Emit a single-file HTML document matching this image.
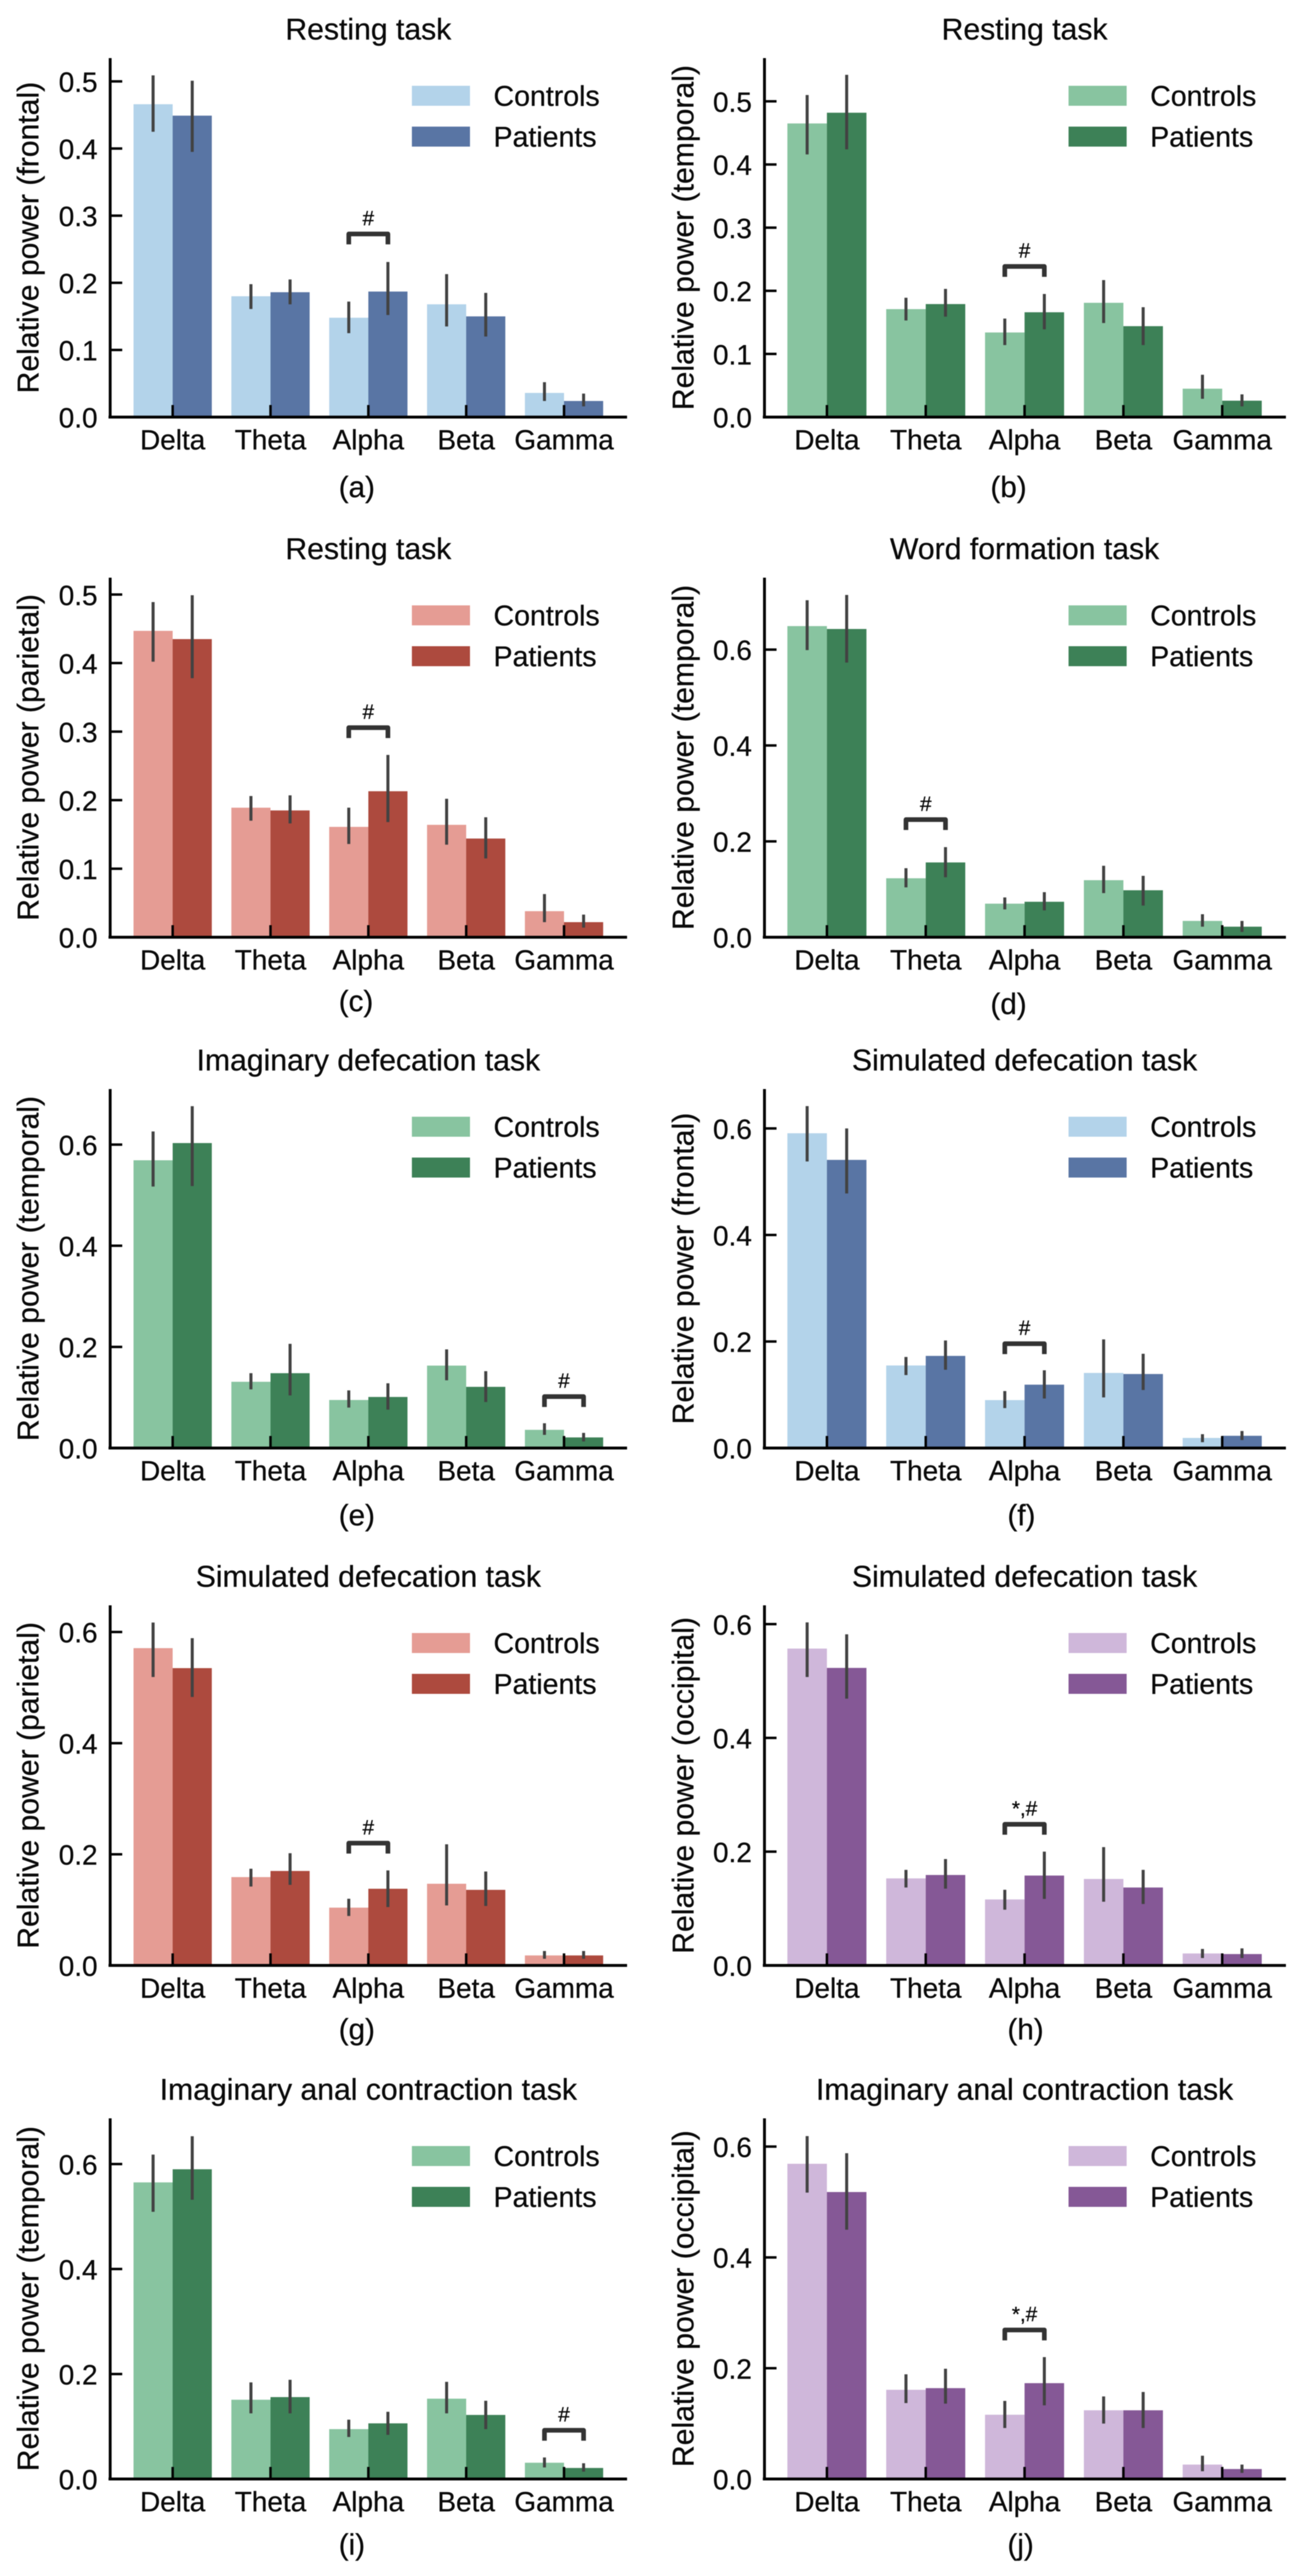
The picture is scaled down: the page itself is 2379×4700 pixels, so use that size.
<!DOCTYPE html>
<html lang="en">
<head>
<meta charset="utf-8">
<title>Relative power by frequency band and task</title>
<style>
html,body{margin:0;padding:0;background:#fff;}
svg{display:block;filter:blur(0.8px);}
text{font-family:"Liberation Sans",Arial,sans-serif;fill:#0a0a0a;stroke:#0a0a0a;stroke-width:0.5px;}
</style>
</head>
<body>
<svg id="figure" xmlns="http://www.w3.org/2000/svg" width="2379" height="4700" viewBox="0 0 2379 4700"></svg>
<script>
const categories = ['Delta','Theta','Alpha','Beta','Gamma'];
const fineTicks = ['0.0','0.1','0.2','0.3','0.4','0.5'];
const coarseTicks = ['0.0','0.2','0.4','0.6'];

const aControls = [.466,.180,.148,.168,.036];
const aPatients = [.449,.186,.187,.150,.024];
const aControlsLow = [.425,.161,.125,.135,.024];
const aControlsHigh = [.509,.198,.172,.213,.052];
const aPatientsLow = [.395,.168,.152,.120,.016];
const aPatientsHigh = [.501,.205,.231,.185,.035];

const bControls = [.465,.171,.134,.181,.045];
const bPatients = [.482,.179,.166,.144,.026];
const bControlsLow = [.416,.153,.114,.149,.029];
const bControlsHigh = [.510,.189,.156,.217,.067];
const bPatientsLow = [.424,.159,.139,.114,.017];
const bPatientsHigh = [.542,.203,.195,.174,.036];

const cControls = [.447,.189,.161,.164,.038];
const cPatients = [.435,.185,.213,.144,.022];
const cControlsLow = [.402,.170,.136,.135,.022];
const cControlsHigh = [.489,.206,.189,.202,.063];
const cPatientsLow = [.378,.166,.168,.115,.014];
const cPatientsHigh = [.499,.207,.266,.175,.033];

const dControls = [.649,.123,.070,.119,.034];
const dPatients = [.643,.156,.074,.098,.022];
const dControlsLow = [.599,.104,.058,.092,.022];
const dControlsHigh = [.703,.144,.083,.149,.048];
const dPatientsLow = [.573,.125,.056,.066,.011];
const dPatientsHigh = [.714,.188,.094,.128,.034];

const eControls = [.569,.131,.095,.163,.036];
const ePatients = [.603,.148,.101,.121,.021];
const eControlsLow = [.517,.116,.080,.134,.026];
const eControlsHigh = [.626,.148,.114,.195,.049];
const ePatientsLow = [.518,.104,.076,.091,.013];
const ePatientsHigh = [.676,.206,.128,.152,.030];

const fControls = [.591,.155,.090,.141,.019];
const fPatients = [.541,.173,.119,.139,.023];
const fControlsLow = [.538,.137,.075,.095,.011];
const fControlsHigh = [.642,.171,.107,.204,.026];
const fPatientsLow = [.478,.147,.093,.109,.015];
const fPatientsHigh = [.600,.202,.146,.177,.032];

const gControls = [.571,.159,.104,.147,.018];
const gPatients = [.535,.170,.138,.136,.018];
const gControlsLow = [.519,.142,.089,.108,.012];
const gControlsHigh = [.617,.174,.120,.218,.026];
const gPatientsLow = [.483,.145,.105,.107,.012];
const gPatientsHigh = [.589,.202,.171,.169,.026];

const hControls = [.557,.153,.116,.152,.021];
const hPatients = [.523,.159,.158,.137,.020];
const hControlsLow = [.507,.137,.098,.112,.013];
const hControlsHigh = [.603,.168,.133,.208,.029];
const hPatientsLow = [.469,.135,.117,.108,.013];
const hPatientsHigh = [.582,.187,.200,.168,.030];

const iControls = [.565,.151,.095,.153,.031];
const iPatients = [.590,.156,.106,.122,.021];
const iControlsLow = [.509,.125,.080,.125,.022];
const iControlsHigh = [.618,.184,.113,.185,.041];
const iPatientsLow = [.532,.125,.084,.095,.014];
const iPatientsHigh = [.653,.189,.128,.149,.030];

const jControls = [.569,.161,.116,.124,.026];
const jPatients = [.518,.164,.173,.124,.018];
const jControlsLow = [.517,.137,.092,.100,.014];
const jControlsHigh = [.619,.189,.141,.149,.042];
const jPatientsLow = [.450,.136,.133,.092,.011];
const jPatientsHigh = [.588,.199,.220,.157,.026];

const palettes = {
  blue:   {light:'#b3d3ea', dark:'#5975a4'},
  green:  {light:'#88c4a0', dark:'#3d8157'},
  red:    {light:'#e59c94', dark:'#ad4a3e'},
  purple: {light:'#cfb7da', dark:'#855896'}
};

const columnLayout = [
  {spine:201, first:315, step:178.5, right:1144, ylabelX:70},
  {spine:1394.7, first:1508.6, step:180.3, right:2346, ylabelX:1265}
];
const rowLayout = [
  {top:106, base:761},
  {top:1054, base:1710},
  {top:1987, base:2642},
  {top:2929, base:3586},
  {top:3865, base:4523}
];

const panels = [
  {tag:'(a)', title:'Resting task', ylabel:'Relative power (frontal)', palette:'blue', col:0, row:0, yMax:.5347, ticks:fineTicks, c:aControls, p:aPatients, cl:aControlsLow, ch:aControlsHigh, pl:aPatientsLow, ph:aPatientsHigh, sigCat:'Alpha', sigTop:.276, sig:'#', tagX:618, tagDy:146},
  {tag:'(b)', title:'Resting task', ylabel:'Relative power (temporal)', palette:'green', col:1, row:0, yMax:.5685, ticks:fineTicks, c:bControls, p:bPatients, cl:bControlsLow, ch:bControlsHigh, pl:bPatientsLow, ph:bPatientsHigh, sigCat:'Alpha', sigTop:.242, sig:'#', tagX:1807, tagDy:146},
  {tag:'(c)', title:'Resting task', ylabel:'Relative power (parietal)', palette:'red', col:0, row:1, yMax:.5246, ticks:fineTicks, c:cControls, p:cPatients, cl:cControlsLow, ch:cControlsHigh, pl:cPatientsLow, ph:cPatientsHigh, sigCat:'Alpha', sigTop:.309, sig:'#', tagX:618, tagDy:135},
  {tag:'(d)', title:'Word formation task', ylabel:'Relative power (temporal)', palette:'green', col:1, row:1, yMax:.750, ticks:coarseTicks, c:dControls, p:dPatients, cl:dControlsLow, ch:dControlsHigh, pl:dPatientsLow, ph:dPatientsHigh, sigCat:'Theta', sigTop:.250, sig:'#', tagX:1807, tagDy:140},
  {tag:'(e)', title:'Imaginary defecation task', ylabel:'Relative power (temporal)', palette:'green', col:0, row:2, yMax:.7098, ticks:coarseTicks, c:eControls, p:ePatients, cl:eControlsLow, ch:eControlsHigh, pl:ePatientsLow, ph:ePatientsHigh, sigCat:'Gamma', sigTop:.106, sig:'#', tagX:618, tagDy:141},
  {tag:'(f)', title:'Simulated defecation task', ylabel:'Relative power (frontal)', palette:'blue', col:1, row:2, yMax:.674, ticks:coarseTicks, c:fControls, p:fPatients, cl:fControlsLow, ch:fControlsHigh, pl:fPatientsLow, ph:fPatientsHigh, sigCat:'Alpha', sigTop:.200, sig:'#', tagX:1838, tagDy:141},
  {tag:'(g)', title:'Simulated defecation task', ylabel:'Relative power (parietal)', palette:'red', col:0, row:3, yMax:.648, ticks:coarseTicks, c:gControls, p:gPatients, cl:gControlsLow, ch:gControlsHigh, pl:gPatientsLow, ph:gPatientsHigh, sigCat:'Alpha', sigTop:.224, sig:'#', tagX:618, tagDy:135},
  {tag:'(h)', title:'Simulated defecation task', ylabel:'Relative power (occipital)', palette:'purple', col:1, row:3, yMax:.633, ticks:coarseTicks, c:hControls, p:hPatients, cl:hControlsLow, ch:hControlsHigh, pl:hPatientsLow, ph:hPatientsHigh, sigCat:'Alpha', sigTop:.252, sig:'*,#', tagX:1838, tagDy:135},
  {tag:'(i)', title:'Imaginary anal contraction task', ylabel:'Relative power (temporal)', palette:'green', col:0, row:4, yMax:.687, ticks:coarseTicks, c:iControls, p:iPatients, cl:iControlsLow, ch:iControlsHigh, pl:iPatientsLow, ph:iPatientsHigh, sigCat:'Gamma', sigTop:.097, sig:'#', tagX:618, tagDy:138},
  {tag:'(j)', title:'Imaginary anal contraction task', ylabel:'Relative power (occipital)', palette:'purple', col:1, row:4, yMax:.651, ticks:coarseTicks, c:jControls, p:jPatients, cl:jControlsLow, ch:jControlsHigh, pl:jPatientsLow, ph:jPatientsHigh, sigCat:'Alpha', sigTop:.273, sig:'*,#', tagX:1838, tagDy:138}
];

const NS = 'http://www.w3.org/2000/svg';
const figure = document.getElementById('figure');

function make(parent, type, attrs, content) {
  const el = document.createElementNS(NS, type);
  for (const key in attrs) el.setAttribute(key, attrs[key]);
  if (content !== undefined) el.textContent = content;
  parent.appendChild(el);
  return el;
}

panels.forEach(function (pn) {
  const colL = columnLayout[pn.col];
  const rowL = rowLayout[pn.row];
  const colors = palettes[pn.palette];
  const yScale = function (v) { return rowL.base - (v / pn.yMax) * (rowL.base - rowL.top); };
  const xScale = function (i) { return colL.first + i * colL.step; };
  const barW = colL.step * 0.4;

  const g = make(figure, 'g', {});
  
  

  const title = make(g, 'text', {x: xScale(2), y: rowL.top - 34, 'text-anchor': 'middle', 'font-size': 55}, pn.title);
  
  

  const ymid = (rowL.top + rowL.base) / 2;
  const ylabel = make(g, 'text', {x: colL.ylabelX, y: ymid, 'text-anchor': 'middle', 'font-size': 55, transform: 'rotate(-90 ' + colL.ylabelX + ' ' + ymid + ')'}, pn.ylabel);
  
  

  categories.forEach(function (cat, i) {
    const cx = xScale(i);
    const barC = make(g, 'rect', {x: cx - barW, y: yScale(pn.c[i]), width: barW, height: rowL.base - yScale(pn.c[i]), fill: colors.light});
    
    
    const barP = make(g, 'rect', {x: cx, y: yScale(pn.p[i]), width: barW, height: rowL.base - yScale(pn.p[i]), fill: colors.dark});
    
    
  });

  categories.forEach(function (cat, i) {
    const cx = xScale(i);
    const errC = make(g, 'line', {x1: cx - barW / 2, x2: cx - barW / 2, y1: yScale(pn.cl[i]), y2: yScale(pn.ch[i]), stroke: '#424242', 'stroke-width': 5.5});
    
    
    const errP = make(g, 'line', {x1: cx + barW / 2, x2: cx + barW / 2, y1: yScale(pn.pl[i]), y2: yScale(pn.ph[i]), stroke: '#424242', 'stroke-width': 5.5});
    
    

    const tick = make(g, 'line', {x1: cx, x2: cx, y1: rowL.base, y2: rowL.base - 22, stroke: '#000', 'stroke-width': 4.5});
    
    
    const tickLabel = make(g, 'text', {x: cx, y: rowL.base + 59, 'text-anchor': 'middle', 'font-size': 51}, cat);
    
    
  });

  pn.ticks.forEach(function (label) {
    const ty = yScale(parseFloat(label));
    const tick = make(g, 'line', {x1: colL.spine, x2: colL.spine + 22, y1: ty, y2: ty, stroke: '#000', 'stroke-width': 4.5});
    
    
    const tickLabel = make(g, 'text', {x: colL.spine - 23, y: ty + 19, 'text-anchor': 'end', 'font-size': 51}, label);
    
    
  });

  const ySpine = make(g, 'line', {x1: colL.spine, x2: colL.spine, y1: rowL.top, y2: rowL.base + 2.5, stroke: '#000', 'stroke-width': 5.2});
  
  
  const xSpine = make(g, 'line', {x1: colL.spine - 3, x2: colL.right, y1: rowL.base, y2: rowL.base, stroke: '#000', 'stroke-width': 5.2});
  
  

  const sigIndex = categories.indexOf(pn.sigCat);
  const sx = xScale(sigIndex);
  const st = yScale(pn.sigTop);
  const bracket = make(g, 'path', {d: 'M' + (sx - barW / 2) + ' ' + (st + 23) + 'V' + (st + 4) + 'H' + (sx + barW / 2) + 'V' + (st + 23), fill: 'none', stroke: '#333', 'stroke-width': 8.5, 'stroke-linejoin': 'round'});
  
  
  const sigMark = make(g, 'text', {x: sx, y: st - 12, 'text-anchor': 'middle', 'font-size': 38}, pn.sig);
  
  

  const lx = colL.first + colL.step * 2.445;
  const swatchC = make(g, 'rect', {x: lx, y: rowL.top + 50.5, width: 106, height: 36.5, fill: colors.light});
  
  
  const textC = make(g, 'text', {x: lx + 149, y: rowL.top + 87, 'font-size': 52}, 'Controls');
  
  
  const swatchP = make(g, 'rect', {x: lx, y: rowL.top + 125, width: 106, height: 36.5, fill: colors.dark});
  
  
  const textP = make(g, 'text', {x: lx + 149, y: rowL.top + 161.5, 'font-size': 52}, 'Patients');
  
  

  const tag = make(g, 'text', {x: pn.tagX, y: rowL.base + pn.tagDy, 'font-size': 54}, pn.tag);
  
  
});
</script>
</body>
</html>
